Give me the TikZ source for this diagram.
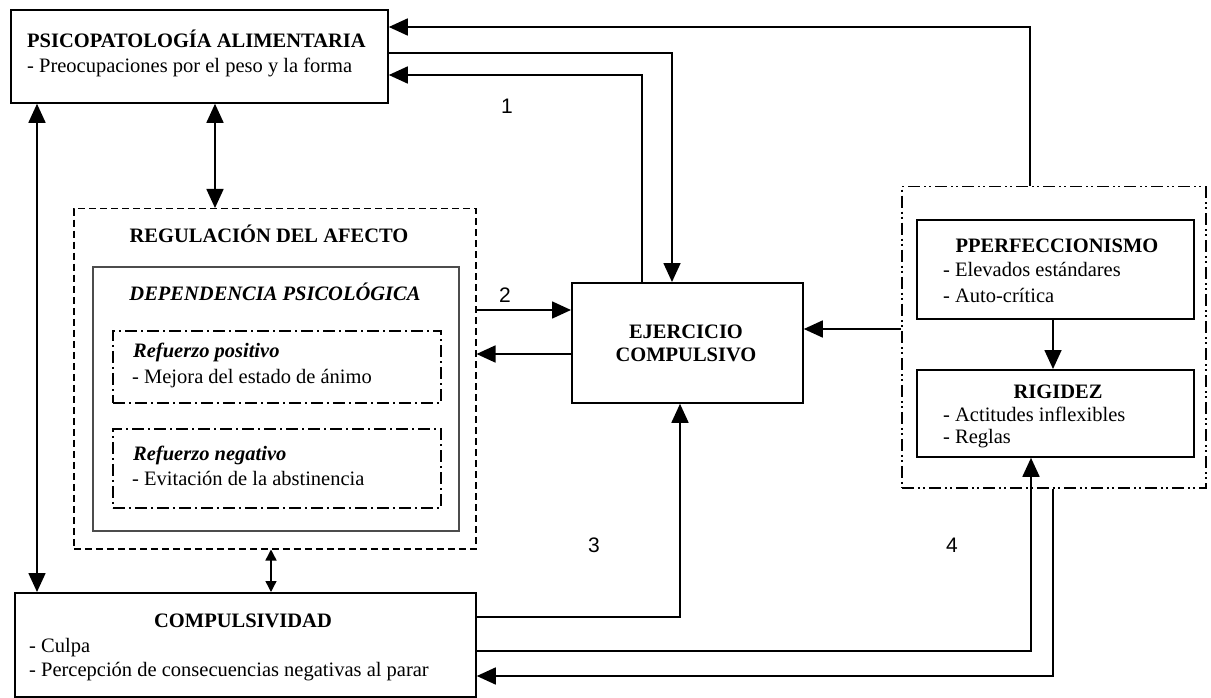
\documentclass[tikz,border=0pt]{standalone}
\usepackage{fontspec}
\setmainfont{Liberation Serif}
\newfontfamily\numfont{Liberation Sans}
\usetikzlibrary{arrows.meta}
\begin{document}
\begin{tikzpicture}[x=1pt,y=-1pt,
  font=\fontsize{20.5}{24}\selectfont,
  box/.style={draw, line width=1.8pt, inner sep=0pt, anchor=north west},
  regbox/.style={box, line width=1.5pt, dash pattern=on 7pt off 4pt},
  depbox/.style={box, draw=black!70, line width=1.7pt},
  refbox/.style={box, line width=1.5pt, dash pattern=on 12pt off 4pt on 2pt off 4pt},
  grpbox/.style={box, line width=1.5pt, dash pattern=on 12pt off 4pt on 2pt off 3pt on 2pt off 4pt},
  txt/.style={inner sep=0pt, anchor=base west},
  ttl/.style={inner sep=0pt, anchor=base, font=\fontsize{20.5}{24}\selectfont\bfseries},
  num/.style={inner sep=0pt, font=\fontsize{21}{24}\selectfont\numfont},
  tip/.tip={Triangle[length=19pt,width=17pt]},
  stip/.tip={Triangle[length=11pt,width=11pt]},
  arr/.style={line width=1.7pt, -tip},
  darr/.style={line width=1.7pt, tip-tip},
  sarr/.style={line width=1.4pt, stip-stip}
]
\useasboundingbox (0,0) rectangle (1211,698);

% ---- boxes ----
\node[box, minimum width=377pt, minimum height=93pt] (psico) at (10,9) {};
\node[regbox, minimum width=402pt, minimum height=340pt] (regul) at (73,208) {};
\node[depbox, minimum width=366pt, minimum height=264pt] (dep) at (92,266) {};
\node[refbox, minimum width=328pt, minimum height=72pt] (rpos) at (112,330) {};
\node[refbox, minimum width=328pt, minimum height=79pt] (rneg) at (112,428) {};
\node[box, minimum width=231pt, minimum height=120pt] (ejer) at (571,282) {};
\node[grpbox, minimum width=304pt, minimum height=301pt] (grupo) at (901,186) {};
\node[box, minimum width=277pt, minimum height=99pt] (perf) at (916,219) {};
\node[box, minimum width=277pt, minimum height=87pt] (rig) at (916,369) {};
\node[box, minimum width=461pt, minimum height=104pt] (comp) at (14,592) {};

% ---- texts ----
\node[txt, font=\fontsize{20.5}{24}\selectfont\bfseries] (psicoT) at (27,48) {PSICOPATOLOGÍA ALIMENTARIA};
\node[txt] (psicoA) at (27,73) {- Preocupaciones por el peso y la forma};

\node[ttl] (regulT) at (269,242) {REGULACIÓN DEL AFECTO};
\node[ttl, font=\fontsize{20.5}{24}\selectfont\bfseries\itshape] (depT) at (275,300) {DEPENDENCIA PSICOLÓGICA};
\node[txt, font=\fontsize{20.5}{24}\selectfont\bfseries\itshape] (rposT) at (133,357) {Refuerzo positivo};
\node[txt] (rposA) at (132,383) {- Mejora del estado de ánimo};
\node[txt, font=\fontsize{20.5}{24}\selectfont\bfseries\itshape] (rnegT) at (133,460) {Refuerzo negativo};
\node[txt] (rnegA) at (132,485) {- Evitación de la abstinencia};

\node[ttl] (ejerT) at (686,338) {EJERCICIO};
\node[ttl] (ejerU) at (686,361) {COMPULSIVO};

\node[ttl] (perfT) at (1057,252) {PPERFECCIONISMO};
\node[txt] (perfA) at (943,276) {- Elevados estándares};
\node[txt] (perfB) at (943,302) {- Auto-crítica};

\node[ttl] (rigT) at (1058,398) {RIGIDEZ};
\node[txt] (rigA) at (943,421) {- Actitudes inflexibles};
\node[txt] (rigB) at (943,443) {- Reglas};

\node[ttl] (compT) at (243,627) {COMPULSIVIDAD};
\node[txt] (compA) at (29,652) {- Culpa};
\node[txt] (compB) at (29,676) {- Percepción de consecuencias negativas al parar};

\node[num] (n1) at (507,106) {1};
\node[num] (n2) at (505,295) {2};
\node[num] (n3) at (594,545) {3};
\node[num] (n4) at (952,545) {4};

% ---- bend points of the connectors ----
\coordinate (cPC) at (37,0);
\coordinate (cPR) at (215,0);
\coordinate (cRC) at (271,0);
\coordinate (cRE) at (0,310);
\coordinate (cER) at (0,354);
\coordinate (cPE) at (672,53);
\coordinate (cEP) at (642,75);
\coordinate (cGP) at (1030,27);
\coordinate (cGE) at (0,329);
\coordinate (cPRg) at (1053,0);
\coordinate (cCE) at (680,617);
\coordinate (cCR) at (1031,651);
\coordinate (cGC) at (1053,676);

% ---- connectors ----
\draw[darr] (psico.south -| cPC) -- (comp.north -| cPC);
\draw[darr] (psico.south -| cPR) -- (regul.north -| cPR);
\draw[sarr] (regul.south -| cRC) -- (comp.north -| cRC);
\draw[arr] (regul.east |- cRE) -- (ejer.west |- cRE);
\draw[arr] (ejer.west |- cER) -- (regul.east |- cER);
\draw[arr] (psico.east |- cPE) -| (ejer.north -| cPE);
\draw[arr] (ejer.north -| cEP) |- (psico.east |- cEP);
\draw[arr] (grupo.north -| cGP) |- (psico.east |- cGP);
\draw[arr] (grupo.west |- cGE) -- (ejer.east |- cGE);
\draw[arr] (perf.south -| cPRg) -- (rig.north -| cPRg);
\draw[arr] (comp.east |- cCE) -| (ejer.south -| cCE);
\draw[arr] (comp.east |- cCR) -| (rig.south -| cCR);
\draw[arr] (grupo.south -| cGC) |- (comp.east |- cGC);
\end{tikzpicture}
\end{document}
